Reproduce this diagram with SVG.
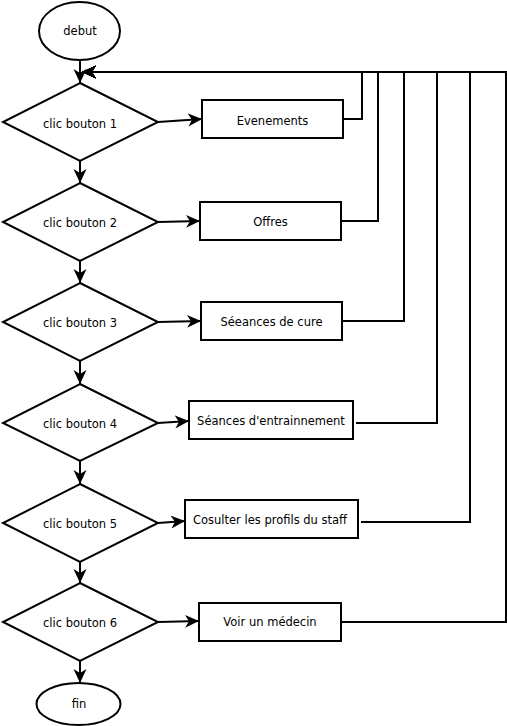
<svg xmlns="http://www.w3.org/2000/svg" width="507" height="726" viewBox="0 0 507 726">
<style>
.s{fill:#fff;stroke:#000;stroke-width:2}
.c{fill:none;stroke:#000;stroke-width:2}
text{font-family:"DejaVu Sans",sans-serif;font-size:11.5px;fill:#000;text-anchor:middle;dominant-baseline:central}
</style>
<defs>
<marker id="a" viewBox="0 0 14 14" refX="14" refY="7" markerWidth="14" markerHeight="14" markerUnits="userSpaceOnUse" orient="auto">
<path d="M0,0.5 L14,7 L0,13.5 L4,7 Z" fill="#000"/>
</marker>
</defs>
<g id="connectors">
<path class="c" d="M80,61 V83" marker-end="url(#a)"/>
<path class="c" d="M80,161 V183" marker-end="url(#a)"/>
<path class="c" d="M80,261 V283" marker-end="url(#a)"/>
<path class="c" d="M80,361 V384" marker-end="url(#a)"/>
<path class="c" d="M80,461 V484" marker-end="url(#a)"/>
<path class="c" d="M80,562 V583" marker-end="url(#a)"/>
<path class="c" d="M80,661 V683" marker-end="url(#a)"/>
<path class="c" d="M158,122 L202,119" marker-end="url(#a)"/>
<path class="c" d="M158,222 L200,221" marker-end="url(#a)"/>
<path class="c" d="M158,322 L201,321" marker-end="url(#a)"/>
<path class="c" d="M158,423 L189,421" marker-end="url(#a)"/>
<path class="c" d="M158,523 L185,521" marker-end="url(#a)"/>
<path class="c" d="M158,622 L199,621" marker-end="url(#a)"/>
<path class="c" d="M343,119 H362 V72 H82" marker-end="url(#a)"/>
<path class="c" d="M341,221 H378 V72 H82" marker-end="url(#a)"/>
<path class="c" d="M342,321 H404 V72 H82" marker-end="url(#a)"/>
<path class="c" d="M356,423 H437 V72 H82" marker-end="url(#a)"/>
<path class="c" d="M361,522 H470 V72 H82" marker-end="url(#a)"/>
<path class="c" d="M341,622 H506 V72 H82" marker-end="url(#a)"/>
</g>
<g id="debut"><ellipse class="s" cx="79.5" cy="31" rx="40.5" ry="29"/><text x="80" y="31">debut</text></g>
<g id="d1"><polygon class="s" points="80,83 158,122 80,161 3,122"/><text x="80" y="123.5">clic bouton 1</text></g>
<g id="d2"><polygon class="s" points="80,183 158,222 80,261 3,222"/><text x="80" y="223">clic bouton 2</text></g>
<g id="d3"><polygon class="s" points="80,283 158,322 80,361 3,322"/><text x="80" y="323">clic bouton 3</text></g>
<g id="d4"><polygon class="s" points="80,384 158,423 80,461 3,423"/><text x="80" y="423.5">clic bouton 4</text></g>
<g id="d5"><polygon class="s" points="80,484 158,523 80,562 3,523"/><text x="80" y="523.5">clic bouton 5</text></g>
<g id="d6"><polygon class="s" points="80,583 158,622 80,661 3,622"/><text x="80" y="622.5">clic bouton 6</text></g>
<g id="b1"><rect class="s" x="202" y="100" width="141" height="38"/><text x="272.5" y="120.5">Evenements</text></g>
<g id="b2"><rect class="s" x="200" y="202" width="141" height="38"/><text x="270.5" y="221.5">Offres</text></g>
<g id="b3"><rect class="s" x="201" y="302" width="141" height="38"/><text x="271.5" y="322">Séeances de cure</text></g>
<g id="b4"><rect class="s" x="189" y="401" width="164" height="38"/><text x="271" y="420.5">Séances d'entrainnement</text></g>
<g id="b5"><rect class="s" x="185" y="500" width="173" height="38"/><text x="270" y="519.5">Cosulter les profils du staff</text></g>
<g id="b6"><rect class="s" x="199" y="603" width="142" height="38"/><text x="270" y="622">Voir un médecin</text></g>
<g id="fin"><ellipse class="s" cx="78.5" cy="704" rx="42" ry="21"/><text x="79" y="704">fin</text></g>
</svg>
